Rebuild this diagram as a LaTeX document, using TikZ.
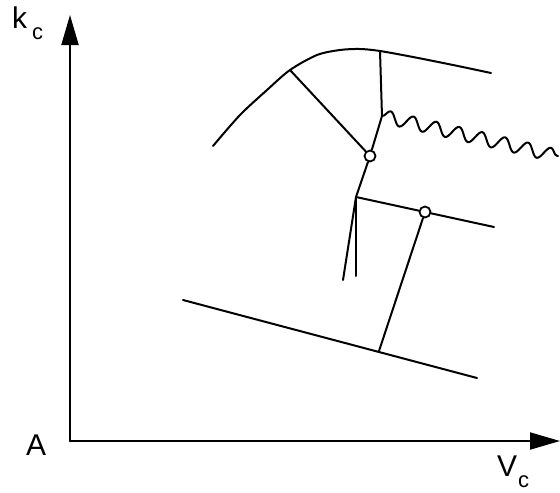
\documentclass[tikz,border=0pt]{standalone}
\usepackage{fontspec}
\setmainfont{Liberation Sans}
\usetikzlibrary{arrows.meta,decorations.pathmorphing}
\begin{document}
\begin{tikzpicture}[x=1pt,y=-1pt,
  ln/.style={line width=2pt,line cap=round,line join=round},
  ring/.style={circle,draw,line width=1.8pt,minimum size=11pt,inner sep=0pt},
  axisarrow/.style={ln,-{Triangle[length=30pt,width=17pt]}},
  lab/.style={anchor=base west,inner sep=0pt,font=\fontsize{30}{30}\selectfont},
  wavy/.style={ln,decorate,decoration={snake,segment length=23.5pt,amplitude=6.5pt}}]
\useasboundingbox (0,0) rectangle (560,493);
% axes
\coordinate (O) at (70,441);
\coordinate (Ytip) at (70,15);
\coordinate (Xtip) at (560,441);
\draw[axisarrow] (O) -- (Ytip);
\draw[axisarrow] (O) -- (Xtip);
\node[lab] (kc) at (12,28) {k\hspace{5pt}\raisebox{-11pt}{\fontsize{22}{22}\selectfont c}};
\node[lab] (A) at (26,455) {A};
\node[lab] (Vc) at (497,476) {V\hspace{1pt}\raisebox{-11pt}{\fontsize{22}{22}\selectfont c}};
% points
\coordinate (P1) at (290,70);
\coordinate (P2) at (380,51);
\coordinate (J) at (382,116);
\node[ring] (C1) at (370,156) {};
\coordinate (K) at (356,197);
\node[ring] (C2) at (425,212) {};
\coordinate (R2) at (494,227);
\coordinate (V1) at (356,276);
\coordinate (S1) at (343,280);
\coordinate (B1) at (183,300);
\coordinate (B2) at (477,378);
\coordinate (Bm) at (379,351);
\coordinate (W) at (558,156);
% upper curve
\draw[ln] plot[smooth,tension=0.5] coordinates {(213,146) (240,115) (267,90) (P1) (317,55) (340,50) (360,49) (P2) (413,57) (453,65) (491,73)};
\draw[ln] (P1) -- (C1);
\draw[ln] (P2) -- (J);
\draw[ln] (J) -- (C1);
\draw[ln] (C1) -- (K);
\draw[wavy] (J) -- (W);
% middle line
\draw[ln] (K) -- (C2);
\draw[ln] (C2) -- (R2);
\draw[ln] (K) -- (V1);
\draw[ln] (K) -- (S1);
\draw[ln] (C2) -- (Bm);
% lower line
\draw[ln] (B1) -- (B2);
\end{tikzpicture}
\end{document}
